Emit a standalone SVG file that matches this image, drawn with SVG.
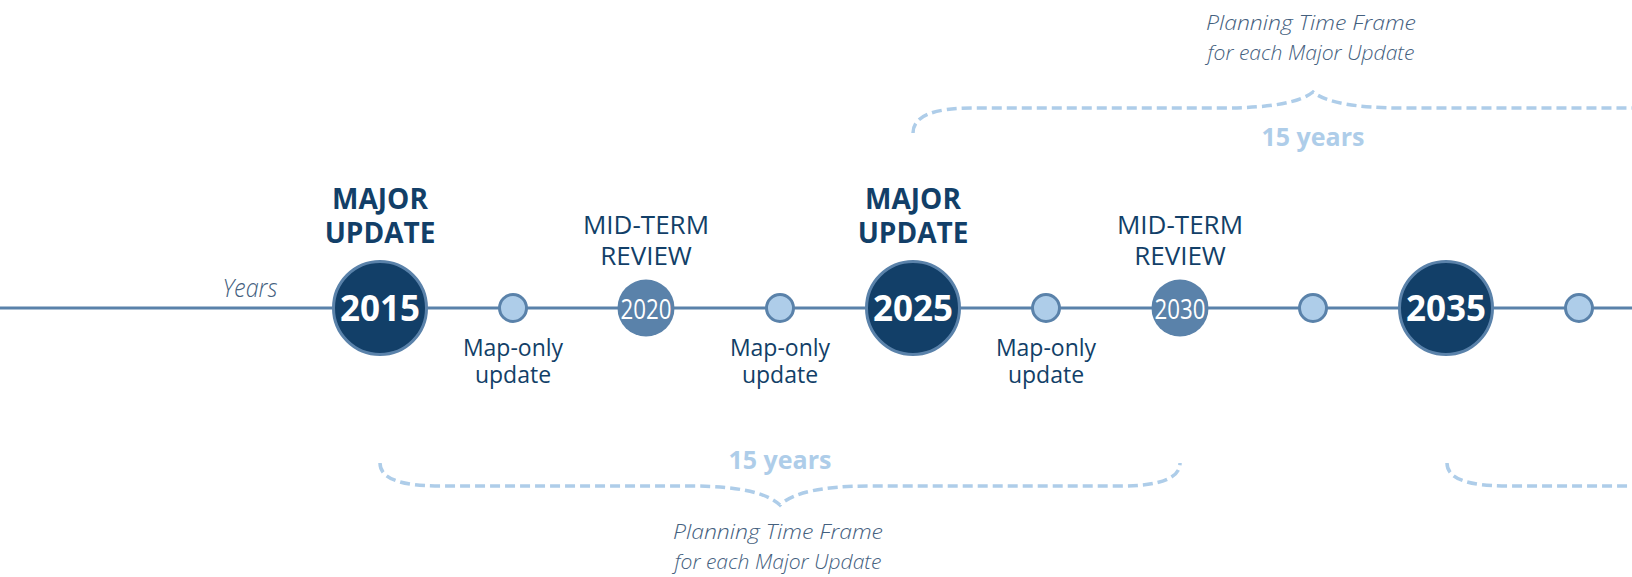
<svg xmlns="http://www.w3.org/2000/svg" width="1632" height="577" viewBox="0 0 1632 577">
<style>
.axis{stroke:#5a82aa;stroke-width:3;fill:none}
.major{fill:#123f68;stroke:#5a82aa;stroke-width:3}
.mid{fill:#5a82aa}
.minor{fill:#aecde9;stroke:#5a82aa;stroke-width:3}
.brace{fill:none;stroke:#aecde9;stroke-width:3.5;stroke-dasharray:10 5}
.t{font-family:"Open Sans","Liberation Sans",sans-serif;text-anchor:middle}
.yrB{font-size:35px;font-weight:700;fill:#fff}
.yrM{font-size:28px;font-weight:400;fill:#fff}
.head{font-size:28px;font-weight:700;fill:#123f68}
.midlbl{font-size:26px;font-weight:400;fill:#123f68}
.minlbl{font-size:23px;font-weight:400;fill:#123f68}
.note{font-size:21px;font-style:italic;font-weight:300;fill:#44607e}
.span{font-size:25px;font-weight:700;fill:#aecde9}
</style>
<g id="connectors">
<line class="axis" x1="0" y1="308" x2="1632" y2="308"/>
<path class="brace" d="M380,463 Q380,486 440,486 L690,486 Q760,486 780,505 Q800,486 870,486 L1120,486 Q1180,486 1180,463"/>
<path class="brace" d="M913,133 Q913,108 973,108 L1223,108 Q1293,108 1313,92 Q1333,108 1403,108 L1640,108"/>
<path class="brace" d="M1447,463 Q1447,486 1507,486 L1640,486"/>
</g>
<g id="years-label"><text class="t note" x="250" y="297" style="font-size:25px" textLength="55" lengthAdjust="spacingAndGlyphs">Years</text></g>
<g id="n2015">
<circle class="major" cx="380" cy="308" r="46.5"/>
<text class="t yrB" x="380" y="320.5">2015</text>
<text class="t head" x="380" y="209">MAJOR</text>
<text class="t head" x="380" y="243">UPDATE</text>
</g>
<g id="n2017">
<circle class="minor" cx="513" cy="308" r="13.5"/>
<text class="t minlbl" x="513" y="356">Map-only</text>
<text class="t minlbl" x="513" y="383">update</text>
</g>
<g id="n2020">
<circle class="mid" cx="646" cy="308" r="28.5"/>
<text class="t yrM" x="646" y="319" textLength="51" lengthAdjust="spacingAndGlyphs">2020</text>
<text class="t midlbl" x="646" y="234">MID-TERM</text>
<text class="t midlbl" x="646" y="265">REVIEW</text>
</g>
<g id="n2022">
<circle class="minor" cx="780" cy="308" r="13.5"/>
<text class="t minlbl" x="780" y="356">Map-only</text>
<text class="t minlbl" x="780" y="383">update</text>
</g>
<g id="n2025">
<circle class="major" cx="913" cy="308" r="46.5"/>
<text class="t yrB" x="913" y="320.5">2025</text>
<text class="t head" x="913" y="209">MAJOR</text>
<text class="t head" x="913" y="243">UPDATE</text>
</g>
<g id="n2027">
<circle class="minor" cx="1046" cy="308" r="13.5"/>
<text class="t minlbl" x="1046" y="356">Map-only</text>
<text class="t minlbl" x="1046" y="383">update</text>
</g>
<g id="n2030">
<circle class="mid" cx="1180" cy="308" r="28.5"/>
<text class="t yrM" x="1180" y="319" textLength="51" lengthAdjust="spacingAndGlyphs">2030</text>
<text class="t midlbl" x="1180" y="234">MID-TERM</text>
<text class="t midlbl" x="1180" y="265">REVIEW</text>
</g>
<g id="n2032">
<circle class="minor" cx="1313" cy="308" r="13.5"/>
</g>
<g id="n2035">
<circle class="major" cx="1446" cy="308" r="46.5"/>
<text class="t yrB" x="1446" y="320.5">2035</text>
</g>
<g id="n2037">
<circle class="minor" cx="1579" cy="308" r="13.5"/>
</g>
<g id="span-bottom">
<text class="t span" x="780" y="469">15 years</text>
<text class="t note" x="778" y="539" textLength="210" lengthAdjust="spacingAndGlyphs">Planning Time Frame</text>
<text class="t note" x="778" y="569" textLength="207" lengthAdjust="spacingAndGlyphs">for each Major Update</text>
</g>
<g id="span-top">
<text class="t span" x="1313" y="146">15 years</text>
<text class="t note" x="1311" y="30" textLength="210" lengthAdjust="spacingAndGlyphs">Planning Time Frame</text>
<text class="t note" x="1311" y="60" textLength="207" lengthAdjust="spacingAndGlyphs">for each Major Update</text>
</g>
</svg>
